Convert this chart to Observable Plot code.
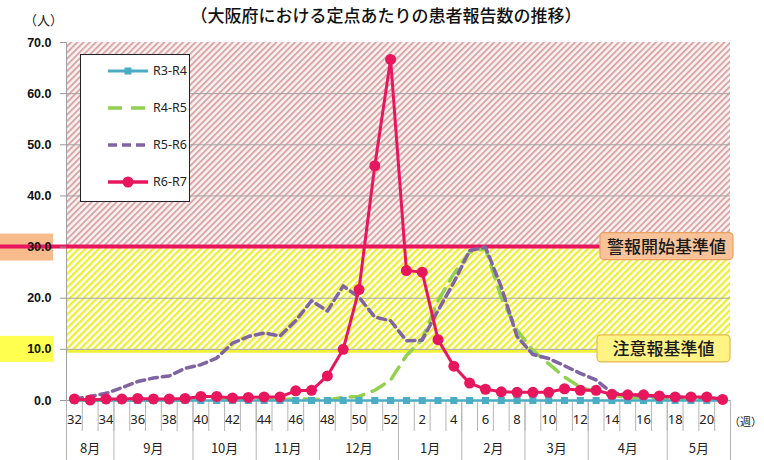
<!DOCTYPE html>
<html><head><meta charset="utf-8">
<script src="https://cdn.jsdelivr.net/npm/d3@7"></script>
<script src="https://cdn.jsdelivr.net/npm/@observablehq/plot@0.6"></script>
<style>
body{margin:0;background:#fff;}
#wrap{position:relative;width:764px;height:460px;overflow:hidden;}
#title{position:absolute;left:0;top:2px;width:772px;text-align:center;font:500 17px "Noto Sans CJK JP";color:#111;}
#unit{position:absolute;left:24px;top:10px;font:13px "Noto Sans CJK JP";color:#222;}
#wk{position:absolute;left:729px;top:413px;font:11px "Noto Sans CJK JP";color:#222;}
</style></head><body>
<div id="wrap"><div id="chart"></div>
<div id="title">（大阪府における定点あたりの患者報告数の推移）</div>
<div id="unit">（人）</div>
<div id="wk">（週）</div>
</div>
<script>
const weeks = [32,33,34,35,36,37,38,39,40,41,42,43,44,45,46,47,48,49,50,51,52,1,2,3,4,5,6,7,8,9,10,11,12,13,14,15,16,17,18,19,20,21];
const months = ["8月","9月","10月","11月","12月","1月","2月","3月","4月","5月"];
const monthWeekCounts = [3,5,4,4,5,4,4,4,5,4];
const yTicks = [0,10,20,30,40,50,60,70];
const alertLevel = 30;   // 警報開始基準値
const warnLevel = 10;    // 注意報基準値
const seriesNames = ["R3-R4","R4-R5","R5-R6","R6-R7"];
const r3r4 = [0,0,0,0,0,0,0,0,0,0,0,0,0,0,0,0,0,0,0,0,0,0,0,0,0,0,0,0,0,0,0,0,0,0,0,0,0,0,0,0,0,0];
const r4r5 = [0.1,0.1,0.1,0.1,0.1,0.1,0.1,0.1,0.2,0.2,0.2,0.2,0.2,0.2,0.3,0.3,0.1,0.6,0.8,2.0,4.0,8.8,12.0,19.5,24.8,29.0,29.7,20.2,13.7,9.8,7.2,4.6,2.6,1.6,1.0,0.6,0.5,0.4,0.3,0.3,0.2,0.2];
const r5r6 = [0.3,0.8,1.4,2.5,3.7,4.4,4.8,6.3,7.0,8.3,11.2,12.5,13.2,12.6,15.6,19.5,17.5,22.4,20.2,16.3,15.6,11.7,11.8,17.6,23.1,29.3,30.0,22.2,12.5,9.0,8.2,6.8,5.3,4.0,1.5,1.1,0.9,0.8,0.7,0.6,0.5,0.4];
const r6r7 = [0.3,0.1,0.3,0.3,0.4,0.3,0.3,0.4,0.8,0.8,0.5,0.6,0.7,0.7,1.9,2.0,4.8,10.0,21.7,45.9,66.7,25.4,25.1,11.9,6.7,3.4,2.2,1.7,1.6,1.6,1.6,2.3,2.0,2.0,1.2,1.1,1.1,0.9,0.7,0.7,0.7,0.2];

const RED = "#e8175d", PURPLE = "#8064a2", GREEN = "#92d050", BLUE = "#4bacc6";
const idx = weeks.map((w, i) => i);
const evenIdx = idx.filter(i => weeks[i] % 2 === 0);
const weekBounds = [-0.5, ...idx.map(i => i + 0.5)];
const monthBounds = [-0.5];
monthWeekCounts.forEach(c => monthBounds.push(monthBounds[monthBounds.length - 1] + c));
const monthCenters = months.map((m, k) => (monthBounds[k] + monthBounds[k + 1]) / 2);
const bands = [{lo: alertLevel, hi: 70}, {lo: warnLevel, hi: alertLevel}];

function defsMark() {
  const defs = d3.create("svg:defs");
  const p1 = defs.append("pattern").attr("id", "hatchR").attr("patternUnits", "userSpaceOnUse")
    .attr("width", 4.4).attr("height", 4.4).attr("patternTransform", "rotate(45)");
  p1.append("rect").attr("width", 4.4).attr("height", 4.4).attr("fill", "#f5f3f3");
  p1.append("rect").attr("width", 1.9).attr("height", 4.4).attr("fill", "#dfa4a4");
  const p2 = defs.append("pattern").attr("id", "hatchY").attr("patternUnits", "userSpaceOnUse")
    .attr("width", 4.8).attr("height", 4.8).attr("patternTransform", "rotate(45)");
  p2.append("rect").attr("width", 4.8).attr("height", 4.8).attr("fill", "#ffffff");
  p2.append("rect").attr("width", 2.3).attr("height", 4.8).attr("fill", "#eeee30");
  return defs.node();
}

function thresholdMark(index, scales, values, dims) {
  const g = d3.create("svg:g");
  const right = dims.width - dims.marginRight;
  const ya = scales.y(alertLevel), yw = scales.y(warnLevel);
  g.append("rect").attr("x", 0).attr("y", ya - 13).attr("width", 53).attr("height", 27).attr("fill", "#f8bb8c");
  g.append("rect").attr("x", 0).attr("y", yw - 13).attr("width", 53).attr("height", 26).attr("fill", "#ffff50");
  g.append("line").attr("x1", 0).attr("x2", right - 125).attr("y1", ya).attr("y2", ya)
    .attr("stroke", RED).attr("stroke-width", 4);
  const boxes = [
    {y: ya, text: "警報開始基準値", fill: "#f9c39a", stroke: "#e9a060", x: right - 130},
    {y: yw, text: "注意報基準値", fill: "#fff383", stroke: "#e8b850", x: right - 133}
  ];
  for (const b of boxes) {
    g.append("rect").attr("x", b.x).attr("y", b.y - 14).attr("width", 133).attr("height", 27)
      .attr("rx", 4).attr("fill", b.fill).attr("stroke", b.stroke).attr("stroke-width", 1.2);
    g.append("text").attr("x", b.x + 66.5).attr("y", b.y).attr("dy", "0.36em")
      .attr("text-anchor", "middle").attr("font-family", "Noto Sans CJK JP").attr("font-size", 17)
      .attr("font-weight", 500).attr("fill", "#1a1a1a").text(b.text);
  }
  return g.node();
}

function legendMark() {
  const g = d3.create("svg:g");
  g.append("rect").attr("x", 80.5).attr("y", 54.5).attr("width", 109).attr("height", 147)
    .attr("fill", "white").attr("stroke", "#222").attr("stroke-width", 1);
  const rows = [
    {name: seriesNames[0], y: 71, color: BLUE, dash: null, w: 3, marker: "square"},
    {name: seriesNames[1], y: 108, color: GREEN, dash: "14,9", w: 3.5, marker: null},
    {name: seriesNames[2], y: 145, color: PURPLE, dash: "9,5", w: 3.5, marker: null},
    {name: seriesNames[3], y: 182, color: RED, dash: null, w: 3.5, marker: "circle"}
  ];
  for (const r of rows) {
    g.append("line").attr("x1", 108).attr("x2", 148).attr("y1", r.y).attr("y2", r.y)
      .attr("stroke", r.color).attr("stroke-width", r.w).attr("stroke-dasharray", r.dash);
    if (r.marker === "square") g.append("rect").attr("x", 124.5).attr("y", r.y - 3.5).attr("width", 7).attr("height", 7).attr("fill", r.color);
    if (r.marker === "circle") g.append("circle").attr("cx", 128).attr("cy", r.y).attr("r", 5.5).attr("fill", r.color);
    g.append("text").attr("x", 153).attr("y", r.y).attr("dy", "0.35em").attr("text-anchor", "start")
      .attr("font-family", "Noto Sans").attr("font-size", 12.5).attr("fill", "#222").text(r.name);
  }
  return g.node();
}

const xi = (d, i) => i;
const yv = d => d;

const chart = Plot.plot({
  width: 764, height: 460,
  marginLeft: 66, marginRight: 34, marginTop: 42, marginBottom: 60,
  x: {domain: [-0.5, weeks.length - 0.5]},
  y: {domain: [0, 70]},
  style: {background: "white", fontFamily: "Noto Sans"},
  marks: [
    defsMark,
    Plot.rect(bands.slice(0, 1), {y1: "lo", y2: "hi", fill: "url(#hatchR)"}),
    Plot.rect(bands.slice(1, 2), {y1: "lo", y2: "hi", fill: "url(#hatchY)"}),
    Plot.ruleY([warnLevel], {stroke: "#f0f03a", strokeWidth: 3, dy: 2}),
    Plot.ruleY(yTicks.filter(t => t > 0 && t < 70 && t !== alertLevel), {stroke: "#a5a5a5", strokeWidth: 1}),
    Plot.ruleY([0], {stroke: "#a0a0a0"}),
    Plot.ruleX([-0.5], {stroke: "#a0a0a0"}),
    thresholdMark,
    Plot.axisY({ticks: yTicks, tickFormat: d3.format(".1f"), tickSize: 6, tickPadding: 9, stroke: "#999",
      fill: "#111", fontWeight: "bold", fontSize: 12.5, fontFamily: "Liberation Sans", label: null}),
    Plot.axisX({ticks: weekBounds, tickSize: 31, tickFormat: () => "", stroke: "#b5b5b5", label: null}),
    Plot.axisX({ticks: monthBounds, tickSize: 60, tickFormat: () => "", stroke: "#b5b5b5", label: null}),
    Plot.axisX({ticks: evenIdx, tickSize: 0, tickPadding: 14, tickFormat: i => String(weeks[i]),
      fontSize: 13, fill: "#222", label: null}),
    Plot.axisX({ticks: monthCenters, tickSize: 0, tickPadding: 43, tickFormat: d => months[monthCenters.indexOf(d)],
      fontSize: 13, fontFamily: "Noto Sans CJK JP", fill: "#222", label: null}),
    Plot.line(r4r5, {x: xi, y: yv, stroke: GREEN, strokeWidth: 3.5, strokeDasharray: "14,9"}),
    Plot.line(r5r6, {x: xi, y: yv, stroke: PURPLE, strokeWidth: 3.5, strokeDasharray: "8,5"}),
    Plot.line(r3r4, {x: xi, y: yv, stroke: BLUE, strokeWidth: 2.5}),
    Plot.dot(r3r4, {x: xi, y: yv, symbol: "square", r: 4, fill: BLUE, stroke: null}),
    Plot.line(r6r7, {x: xi, y: yv, stroke: RED, strokeWidth: 3}),
    Plot.dot(r6r7, {x: xi, y: yv, r: 5.5, fill: RED, stroke: null}),
    legendMark
  ]
});
document.getElementById("chart").appendChild(chart);
</script>
</body></html>
